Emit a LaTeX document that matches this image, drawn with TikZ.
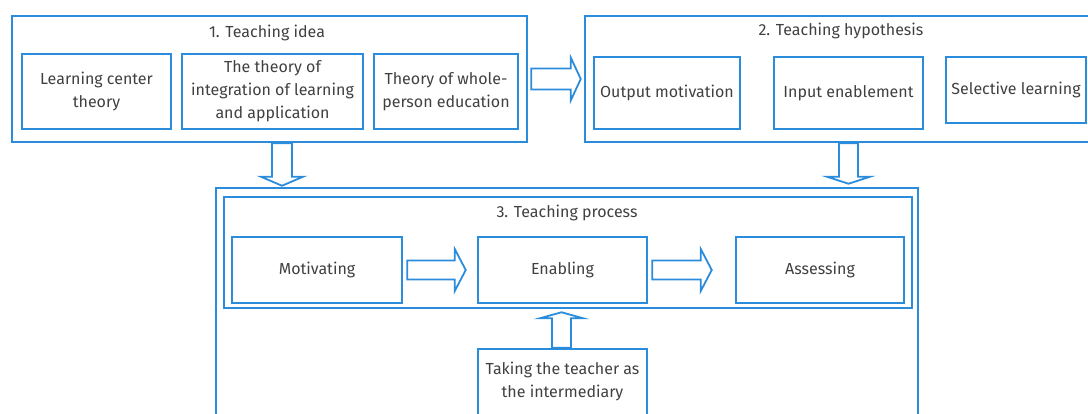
\documentclass[tikz,border=0pt]{standalone}
\usepackage{fontspec}
\setmainfont{Fira Sans}
\usetikzlibrary{calc}
\definecolor{bl}{HTML}{2B8CDB}
\definecolor{txt}{HTML}{404040}
\tikzset{
  box/.style={draw=bl, line width=2.5pt, align=center, text=txt, font=\fontsize{16}{23}\selectfont, inner sep=1pt},
  ttl/.style={text=txt, align=center, font=\fontsize{16}{23}\selectfont, inner sep=0pt},
  arr/.style={draw=bl, line width=1.8pt, fill=white, line join=miter},
}
% hollow block arrow: tail, tip, shaft half-width, head half-width, head length
\newcommand\blockarr[5]{%
  \draw[arr] ($(#1)!#3!90:(#2)$) -- ($($(#2)!#5!(#1)$)!#3!-90:(#1)$)
    -- ($($(#2)!#5!(#1)$)!#4!-90:(#1)$) -- (#2)
    -- ($($(#2)!#5!(#1)$)!#4!90:(#1)$) -- ($($(#2)!#5!(#1)$)!#3!90:(#1)$)
    -- ($(#1)!#3!-90:(#2)$) -- cycle;}
\begin{document}
\begin{tikzpicture}[x=1pt,y=-1pt]
\useasboundingbox (0,0) rectangle (1088,414);
\clip (0,0) rectangle (1088,414);
% group 1
\node[box, minimum width=515pt, minimum height=126pt] (g1) at (269.5,79) {};
\node[ttl] (t1) at (267,33) {1. Teaching idea};
\node[box, minimum width=149pt, minimum height=75pt] (a1) at (96.5,91.5) {Learning center\\theory};
\node[box, minimum width=181pt, minimum height=75pt] (a2) at (272.5,91.5) {The theory of\\integration of learning\\and application};
\node[box, minimum width=144pt, minimum height=75pt] (a3) at (446,91.5) {Theory of whole-\\person education};
% group 2
\node[box, minimum width=520pt, minimum height=126pt] (g2) at (845,79) {};
\node[ttl] (t2) at (841,31) {2. Teaching hypothesis};
\node[box, minimum width=146pt, minimum height=72pt] (b1) at (667,93) {Output motivation};
\node[box, minimum width=149pt, minimum height=72pt] (b2) at (848.5,93) {Input enablement};
\node[box, minimum width=140pt, minimum height=66pt] (b3) at (1016,90) {Selective learning};
% group 3
\node[box, minimum width=702pt, minimum height=252pt] (g3) at (567,314) {};
\node[box, minimum width=688pt, minimum height=111pt] (g3i) at (568,252.5) {};
\node[ttl] (t3) at (567,213) {3. Teaching process};
\node[box, minimum width=170pt, minimum height=66pt] (c1) at (317,270) {Motivating};
\node[box, minimum width=169pt, minimum height=66pt] (c2) at (562.5,270) {Enabling};
\node[box, minimum width=168pt, minimum height=66pt] (c3) at (820,270) {Assessing};
\node[box, minimum width=169pt, minimum height=82pt] (d) at (562.5,390) {};
\node[ttl] (dl) at (562.5,381) {Taking the teacher as\\the intermediary};
% arrows
\coordinate (A1) at ([xshift=3pt]g1.east);
\coordinate (A2) at ([xshift=-3pt]g2.west);
\blockarr{A1}{A2}{10.5pt}{21.5pt}{10pt}
\coordinate (B1) at ($(g1.south)+(12.5,0)$);
\coordinate (B2) at ($(g3.north)+(-285,-1)$);
\blockarr{B1}{B2}{10pt}{21pt}{9pt}
\coordinate (C1) at ($(g2.south)+(3.5,0)$);
\coordinate (C2) at ($(g3.north)+(281.5,-3)$);
\blockarr{C1}{C2}{9.5pt}{21.5pt}{7pt}
\coordinate (D1) at ([xshift=4pt]c1.east);
\coordinate (D2) at ([xshift=-11pt]c2.west);
\blockarr{D1}{D2}{9.5pt}{21pt}{11pt}
\coordinate (E1) at ([xshift=4pt]c2.east);
\coordinate (E2) at ([xshift=-23pt]c3.west);
\blockarr{E1}{E2}{9.5pt}{21pt}{11pt}
\coordinate (F1) at ($(d.north)+(-1,0)$);
\coordinate (F2) at ($(g3i.south)+(-6.5,3)$);
\blockarr{F1}{F2}{9.5pt}{21.5pt}{6pt}
\end{tikzpicture}
\end{document}
